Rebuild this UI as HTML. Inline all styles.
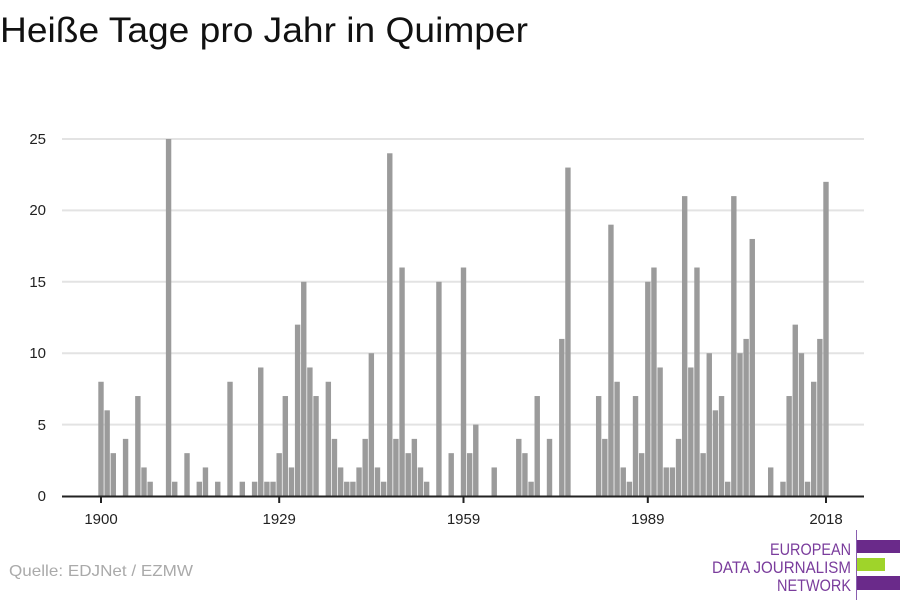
<!DOCTYPE html>
<html><head><meta charset="utf-8"><style>
body{margin:0;background:#fff;}
svg{display:block;font-family:"Liberation Sans",sans-serif;}
</style></head><body>
<svg id="s" width="900" height="600" xmlns="http://www.w3.org/2000/svg">
<rect width="900" height="600" fill="#fff"/>
<text x="0" y="42" font-size="35" fill="#111" textLength="528" lengthAdjust="spacingAndGlyphs">Heiße Tage pro Jahr in Quimper</text>
<g stroke="#e3e3e3" stroke-width="2">
<line x1="62" x2="864" y1="139" y2="139"/><line x1="62" x2="864" y1="210.4" y2="210.4"/>
<line x1="62" x2="864" y1="281.8" y2="281.8"/><line x1="62" x2="864" y1="353.2" y2="353.2"/>
<line x1="62" x2="864" y1="424.6" y2="424.6"/>
</g>
<g font-size="15" fill="#222" text-anchor="end">
<text x="46" y="144">25</text><text x="46" y="215">20</text><text x="46" y="287">15</text>
<text x="46" y="358">10</text><text x="46" y="430">5</text><text x="46" y="501">0</text>
</g>
<g id="bars" fill="#9b9b9b"></g>
<line x1="62" x2="864" y1="496.5" y2="496.5" stroke="#222" stroke-width="2"/>
<g stroke="#222" stroke-width="2">
<line x1="101" x2="101" y1="496" y2="503"/><line x1="279.2" x2="279.2" y1="496" y2="503"/>
<line x1="463.5" x2="463.5" y1="496" y2="503"/><line x1="647.8" x2="647.8" y1="496" y2="503"/>
<line x1="826" x2="826" y1="496" y2="503"/>
</g>
<g font-size="15" fill="#222" text-anchor="middle">
<text x="101" y="524">1900</text><text x="279.2" y="524">1929</text><text x="463.5" y="524">1959</text>
<text x="647.8" y="524">1989</text><text x="826" y="524">2018</text>
</g>
<text x="9" y="576" font-size="16" fill="#aaa" textLength="184" lengthAdjust="spacingAndGlyphs">Quelle: EDJNet / EZMW</text>
<line x1="856.5" x2="856.5" y1="530" y2="600" stroke="#8a5fb0" stroke-width="1"/>
<rect x="857" y="540" width="43" height="13" fill="#6a2a8a"/>
<rect x="857" y="558" width="28" height="13" fill="#9fd42a"/>
<rect x="857" y="576" width="43" height="14" fill="#6a2a8a"/>
<g font-size="17" fill="#7a3c9c">
<text x="770" y="555" textLength="81" lengthAdjust="spacingAndGlyphs">EUROPEAN</text>
<text x="712" y="573" textLength="139" lengthAdjust="spacingAndGlyphs">DATA JOURNALISM</text>
<text x="777" y="591" textLength="74" lengthAdjust="spacingAndGlyphs">NETWORK</text>
</g>
</svg>
<script>
var v={1900:8,1901:6,1902:3,1904:4,1906:7,1907:2,1908:1,1911:25,1912:1,1914:3,1916:1,1917:2,1919:1,1921:8,1923:1,1925:1,1926:9,1927:1,1928:1,1929:3,1930:7,1931:2,1932:12,1933:15,1934:9,1935:7,1937:8,1938:4,1939:2,1940:1,1941:1,1942:2,1943:4,1944:10,1945:2,1946:1,1947:24,1948:4,1949:16,1950:3,1951:4,1952:2,1953:1,1955:15,1957:3,1959:16,1960:3,1961:5,1964:2,1968:4,1969:3,1970:1,1971:7,1973:4,1975:11,1976:23,1981:7,1982:4,1983:19,1984:8,1985:2,1986:1,1987:7,1988:3,1989:15,1990:16,1991:9,1992:2,1993:2,1994:4,1995:21,1996:9,1997:16,1998:3,1999:10,2000:6,2001:7,2002:1,2003:21,2004:10,2005:11,2006:18,2009:2,2011:1,2012:7,2013:12,2014:10,2015:1,2016:8,2017:11,2018:22};
var g=document.getElementById('bars'),h='';
for(var y in v){var cx=101+(y-1900)*6.144,ht=v[y]*14.28;
h+='<rect x="'+(cx-2.7).toFixed(2)+'" y="'+(496-ht).toFixed(2)+'" width="5.4" height="'+ht.toFixed(2)+'"/>';}
g.innerHTML=h;
</script>
</body></html>
